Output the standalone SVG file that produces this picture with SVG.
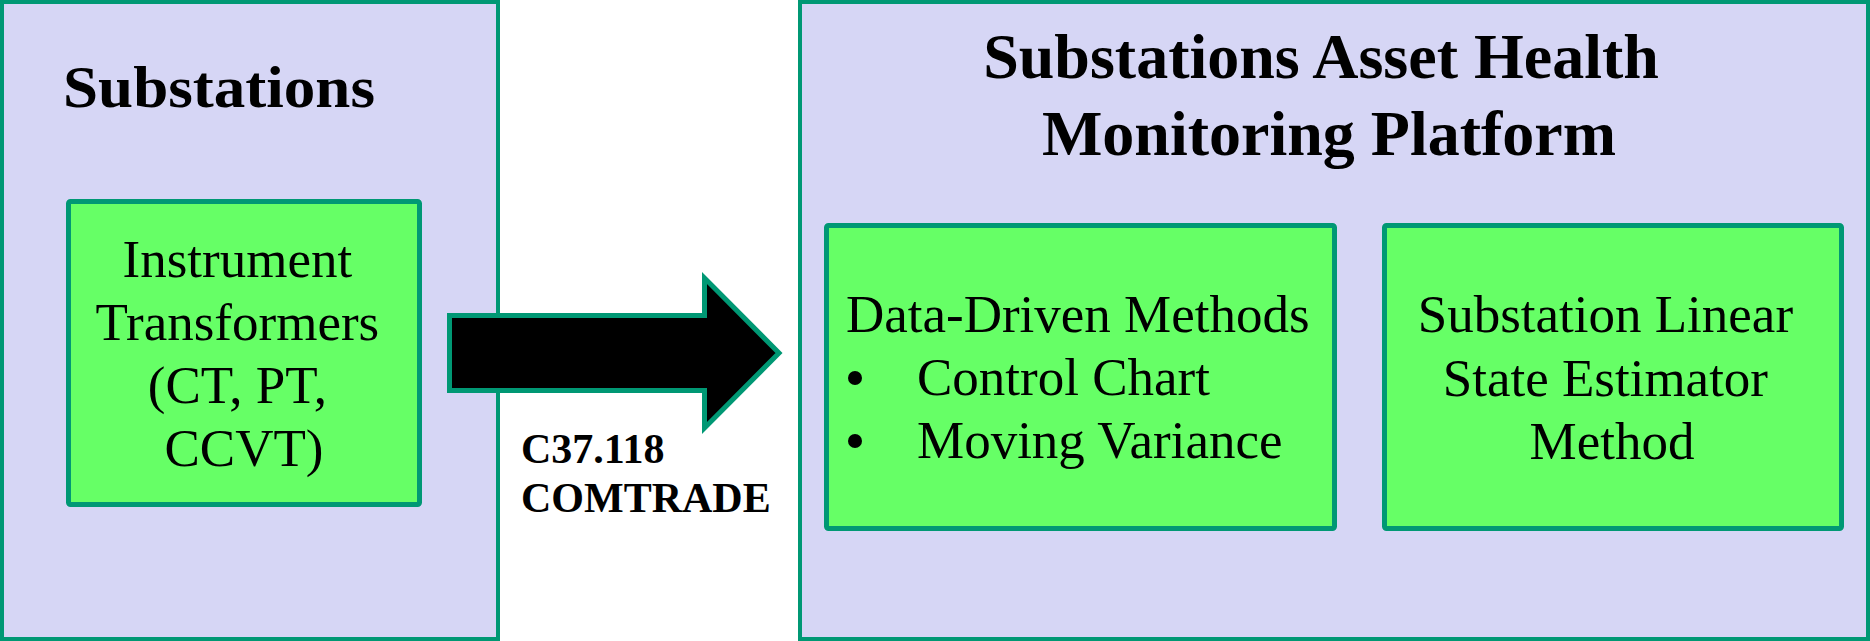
<svg xmlns="http://www.w3.org/2000/svg" width="1870" height="641" viewBox="0 0 1870 641">
  <defs>
    <style>
      .outer { fill: #D6D6F5; stroke: #009874; stroke-width: 4; }
      .inner { fill: #66FF66; stroke: #009874; stroke-width: 5; }
      .title { font-family: "Liberation Serif", "Times New Roman", serif; font-weight: bold; fill: #000; }
      .body { font-family: "Liberation Serif", "Times New Roman", serif; font-size: 53px; fill: #000; }
      .label { font-family: "Liberation Serif", "Times New Roman", serif; font-weight: bold; font-size: 42px; fill: #000; }
    </style>
  </defs>
  <rect width="1870" height="641" fill="#FFFFFF"/>

  <g id="substations">
    <rect class="outer" x="2" y="2" width="496" height="637"/>
    <text class="title" x="63" y="107" font-size="60" textLength="312" lengthAdjust="spacingAndGlyphs">Substations</text>
  </g>

  <g id="instrument-transformers">
    <rect class="inner" x="68.5" y="201.5" width="351" height="303" rx="2"/>
    <text class="body" text-anchor="middle">
      <tspan x="244" y="277">Instrument</tspan>
      <tspan x="244" y="340">Transformers</tspan>
      <tspan x="244" y="403">(CT, PT,</tspan>
      <tspan x="244" y="466">CCVT)</tspan>
    </text>
  </g>

  <g id="platform">
    <rect class="outer" x="800" y="2" width="1068" height="637"/>
    <text class="title" font-size="64" text-anchor="middle">
      <tspan x="1329" y="78">Substations Asset Health</tspan>
      <tspan x="1329" y="155">Monitoring Platform</tspan>
    </text>
  </g>

  <g id="data-driven">
    <rect class="inner" x="826.5" y="225.5" width="508" height="303" rx="2"/>
    <text class="body">
      <tspan x="846" y="332">Data-Driven Methods</tspan>
    </text>
    <circle cx="855" cy="378" r="7" fill="#000"/>
    <circle cx="855" cy="441" r="7" fill="#000"/>
    <text class="body">
      <tspan x="917" y="395">Control Chart</tspan>
      <tspan x="917" y="458">Moving Variance</tspan>
    </text>
  </g>

  <g id="linear-state-estimator">
    <rect class="inner" x="1384.5" y="225.5" width="457" height="303" rx="2"/>
    <text class="body" text-anchor="middle">
      <tspan x="1612" y="332">Substation Linear</tspan>
      <tspan x="1612" y="396">State Estimator</tspan>
      <tspan x="1612" y="459">Method</tspan>
    </text>
  </g>

  <g id="connectors">
    <path d="M449.5,315.5 H704.5 V278 L779,353 L704.5,428 V390.5 H449.5 Z" fill="#000" stroke="#009874" stroke-width="5" stroke-linejoin="miter"/>
    <text class="label">
      <tspan x="521" y="463">C37.118</tspan>
      <tspan x="521" y="512">COMTRADE</tspan>
    </text>
  </g>
</svg>
